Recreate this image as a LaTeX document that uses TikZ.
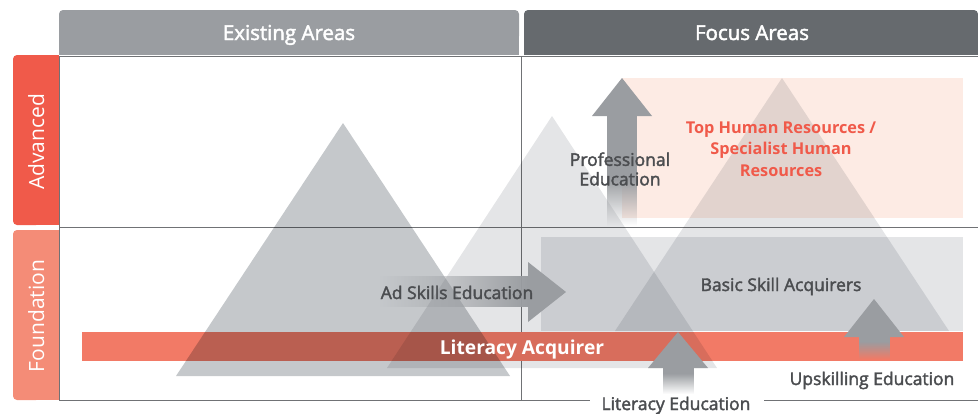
\documentclass[tikz,border=0pt]{standalone}
\usepackage{fontspec}
\setmainfont{Open Sans}
\newfontfamily\semib[FakeBold=2.2]{Open Sans}
\usetikzlibrary{fadings}

\definecolor{hdrlight}{HTML}{9A9DA1}
\definecolor{hdrdark}{HTML}{666A6E}
\definecolor{advred}{HTML}{F05A4A}
\definecolor{fndred}{HTML}{F48C77}
\definecolor{barred}{HTML}{F27A66}
\definecolor{pinkbox}{HTML}{FDEBE4}
\definecolor{greybox}{HTML}{E4E5E7}
\definecolor{tridark}{HTML}{C5C8CB}
\definecolor{trilight}{HTML}{E4E5E7}
\definecolor{arrowgrey}{HTML}{9A9DA1}
\definecolor{labelgrey}{HTML}{4B4D50}
\definecolor{gridgrey}{HTML}{707275}

\tikzfading[name=fade west, left color=transparent!100, right color=transparent!0]
\tikzfading[name=fade south, bottom color=transparent!100, top color=transparent!0]

\begin{document}
\begin{tikzpicture}[x=1pt, y=-1pt,
  hdrtxt/.style={text=white, font=\semib\fontsize{20.5}{24}\selectfont, anchor=base},
  tabtxt/.style={text=white, font=\fontsize{21}{24}\selectfont, rotate=90, anchor=base},
  lbl/.style={text=labelgrey, font=\semib\fontsize{17.5}{19.5}\selectfont, align=center, inner sep=0pt},
  toplbl/.style={lbl, text=advred, font=\bfseries\fontsize{16.3}{21.5}\selectfont},
  bartxt/.style={text=white, font=\bfseries\fontsize{19.2}{22}\selectfont, inner sep=0pt, anchor=base},
  tri/.style={blend mode=multiply},
  grid/.style={draw=gridgrey, line width=1pt}]
\useasboundingbox (0,0) rectangle (978,413);

% column heads and row tabs
\fill[hdrlight, rounded corners=4pt] (59,10) rectangle (519,40);
\fill[hdrlight] (59,30) rectangle (519,55);
\fill[hdrdark, rounded corners=4pt] (524,10) rectangle (978,40);
\fill[hdrdark] (524,30) rectangle (978,55);
\fill[advred, rounded corners=4pt] (13,55) rectangle (40,225);
\fill[advred] (30,55) rectangle (59,225);
\fill[fndred, rounded corners=4pt] (13,230) rectangle (40,400);
\fill[fndred] (30,230) rectangle (59,400);

% grid
\draw[grid] (59,56) -- (978,56);
\draw[grid] (59,56) -- (59,400);
\draw[grid] (521,56) -- (521,400);
\draw[grid] (59,227) -- (978,227);
\draw[grid] (59,400) -- (590,400);
\draw[grid] (764,400) -- (978,400);

% target groups
\fill[pinkbox] (622,78) rectangle (963,218);
\fill[greybox] (541,237) rectangle (963,331);
\fill[barred] (82,332) rectangle (963,361);

% pyramids
\fill[tridark, tri] (343,123) -- (176,376) -- (510,376) -- cycle;
\fill[trilight, tri] (552,116) -- (387,368) -- (717,368) -- cycle;
\fill[trilight, tri] (782,78) -- (615,331) -- (949,331) -- cycle;

% education arrows
\fill[arrowgrey, path fading=fade west] (380,276) rectangle (528.5,307);
\fill[arrowgrey] (528,262) -- (566,292) -- (528,322) -- cycle;

\fill[arrowgrey] (592,116) -- (622,78) -- (652,116) -- cycle;
\fill[arrowgrey] (607,115.5) rectangle (637,180);
\fill[arrowgrey, path fading=fade south] (607,179.5) rectangle (637,226);

\fill[arrowgrey] (648,368) -- (678,332) -- (708,368) -- cycle;
\fill[arrowgrey] (663,367.5) rectangle (694,374);
\fill[arrowgrey, path fading=fade south] (663,373.5) rectangle (694,394);

\fill[arrowgrey] (844,337) -- (874,299) -- (904,337) -- cycle;
\fill[arrowgrey] (859,336.5) rectangle (890,342);
\fill[arrowgrey, path fading=fade south] (859,341.5) rectangle (890,359);

% texts
\node[hdrtxt] (exist) at (289,40) {Existing Areas};
\node[hdrtxt] (focus) at (752,40) {Focus Areas};
\node[tabtxt] (adv) at (44,142) {Advanced};
\node[tabtxt] (fnd) at (44,316) {Foundation};
\node[lbl, anchor=base] (adskill) at (457,299) {Ad Skills Education};
\node[lbl] (prof) at (620,169) {Professional\\Education};
\node[toplbl] (top) at (781,149) {Top Human Resources /\\Specialist Human\\Resources};
\node[lbl, anchor=base] (basic) at (781,291) {Basic Skill Acquirers};
\node[bartxt] (litacq) at (522,354) {Literacy Acquirer};
\node[lbl, anchor=base] (upskill) at (872,385) {Upskilling Education};
\node[lbl, anchor=base] (litedu) at (676,410) {Literacy Education};
\end{tikzpicture}
\end{document}
